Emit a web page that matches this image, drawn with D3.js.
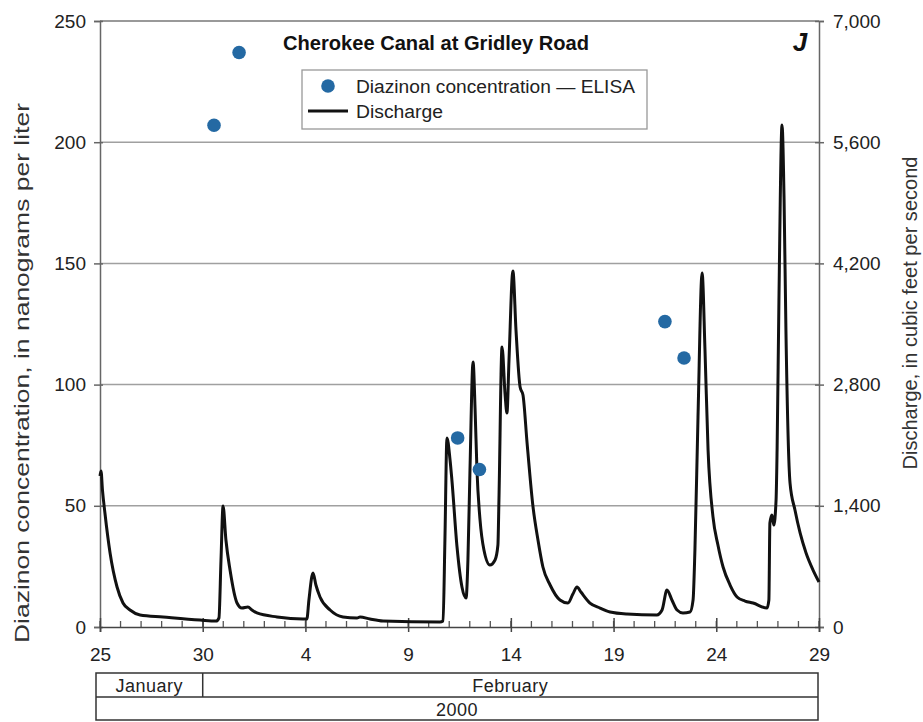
<!DOCTYPE html>
<html>
<head>
<meta charset="utf-8">
<script src="https://cdn.jsdelivr.net/npm/d3@7"></script>
<style>
  html, body { margin: 0; padding: 0; background: #fff; }
  svg { display: block; }
</style>
</head>
<body>
<div id="chart"></div>
<script>
// Cherokee Canal at Gridley Road, January 25 – February 29, 2000

// Discharge record: time in days after 2000-01-25 00:00, discharge in cubic feet per second
const dischargeDay = [0, 0.05, 0.12, 0.24, 0.49, 0.83, 1.12, 1.46, 1.95, 3.07, 4.87, 5.65, 5.79, 5.89, 5.99,
  6.13, 6.33, 6.67, 6.91, 7.20, 7.40, 7.64, 8.62, 9.88, 10.07, 10.17, 10.37, 10.51, 10.71, 11.20, 11.83,
  12.51, 12.66, 13.14, 13.78, 16.55, 16.70, 16.79, 16.89, 17.04, 17.13, 17.38, 17.62, 17.82, 17.91, 18.01,
  18.16, 18.26, 18.35, 18.50, 18.69, 18.98, 19.23, 19.37, 19.42, 19.57, 19.72, 19.81, 19.91, 20.10, 20.25,
  20.45, 20.59, 20.79, 21.08, 21.32, 21.56, 21.91, 22.39, 22.78, 23.02, 23.22, 23.41, 23.85, 24.34, 24.83,
  25.65, 27.11, 27.36, 27.60, 27.84, 28.09, 28.38, 28.72, 28.87, 28.96, 29.11, 29.31, 29.45, 29.60, 29.84,
  30.08, 30.33, 30.67, 31.01, 31.40, 31.79, 32.47, 32.56, 32.61, 32.71, 32.80, 32.91, 32.96, 33.05, 33.20,
  33.30, 33.39, 33.59, 33.83, 34.08, 34.37, 34.71, 35.00];
const dischargeCfs = [1744, 1802, 1582, 1317, 855, 462, 277, 196, 139, 116, 81, 69, 104, 774, 1398,
  1005, 658, 277, 219, 231, 196, 162, 116, 92, 92, 312, 624, 485, 347, 196, 116,
  104, 116, 92, 69, 58, 69, 1005, 2183, 1929, 1698, 924, 462, 335, 774, 1813,
  3061, 2507, 1813, 1236, 889, 716, 774, 947, 1467, 3234, 2680, 2472, 3084, 4112, 3430,
  2772, 2680, 2125, 1386, 1005, 693, 485, 312, 277, 381, 462, 404, 277, 219, 173,
  150, 139, 196, 427, 312, 196, 162, 173, 312, 889, 2426, 4089, 3200, 2045, 1271,
  947, 693, 485, 347, 300, 277, 219, 312, 1201, 1294, 1178, 1467, 2045, 3777, 5799,
  4932, 3431, 1663, 1351, 1086, 855, 658, 520];

// Diazinon samples (ELISA): time in days after 2000-01-25 00:00, concentration in ng/L
const elisaDay = [5.55, 6.77, 17.41, 18.47, 27.50, 28.43];
const elisaNgL = [207, 237, 78, 65, 126, 111];

// Axis ticks
const leftTicks = [0, 50, 100, 150, 200, 250];
const rightTicks = [0, 1400, 2800, 4200, 5600, 7000];
const xTickDates = ["2000-01-25", "2000-01-30", "2000-02-04", "2000-02-09", "2000-02-14", "2000-02-19", "2000-02-24", "2000-02-29"];
const xTickLabels = ["25", "30", "4", "9", "14", "19", "24", "29"];

// Month / year band under the time axis
const monthNames = ["January", "February"];
const monthStarts = ["2000-01-25", "2000-01-30"];
const monthEnds = ["2000-01-30", "2000-02-29"];
const yearLabel = "2000";

const W = 923, H = 722;
const FONT = '"Liberation Sans", Arial, sans-serif';
const BLUE = "#2469a3";

const parseDay = d3.timeParse("%Y-%m-%d");
const t0 = parseDay("2000-01-25");
const dayToDate = d => new Date(t0.getTime() + d * 86400000);

const plot = { left: 100, right: 819, top: 21, bottom: 627 };

const x = d3.scaleTime()
  .domain([t0, parseDay("2000-02-29")])
  .range([plot.left, plot.right]);
const yLeft = d3.scaleLinear().domain([0, 250]).range([plot.bottom, plot.top]);
const yRight = d3.scaleLinear().domain([0, 7000]).range([plot.bottom, plot.top]);

const svg = d3.select("#chart").append("svg")
  .attr("width", W).attr("height", H)
  .attr("viewBox", `0 0 ${W} ${H}`)
  .style("font-family", FONT);

// Horizontal grid lines
svg.append("g").selectAll("line")
  .data(leftTicks.filter(v => v > 0 && v < 250))
  .join("line")
  .attr("x1", plot.left).attr("x2", plot.right)
  .attr("y1", d => yLeft(d)).attr("y2", d => yLeft(d))
  .attr("stroke", "#a0a0a0").attr("stroke-width", 1.5);

// Top frame line
svg.append("line")
  .attr("x1", plot.left).attr("x2", plot.right)
  .attr("y1", yLeft(250)).attr("y2", yLeft(250))
  .attr("stroke", "#777").attr("stroke-width", 1.5);

// Left axis
const leftAxis = svg.append("g")
  .attr("transform", `translate(${plot.left},0)`)
  .call(d3.axisLeft(yLeft).tickValues(leftTicks).tickSize(6).tickPadding(8).tickFormat(d3.format("d")));
leftAxis.select(".domain").attr("stroke", "#666").attr("stroke-width", 1.5);
leftAxis.selectAll(".tick line").attr("stroke", "#666").attr("stroke-width", 1.5).attr("x2", -6).attr("x1", 3);
leftAxis.selectAll(".tick text")
  .attr("font-size", 19).attr("fill", "#222")
  .style("font-family", FONT);

// Right axis
const rightAxis = svg.append("g")
  .attr("transform", `translate(${plot.right},0)`)
  .call(d3.axisRight(yRight).tickValues(rightTicks).tickSize(5).tickPadding(9).tickFormat(d3.format(",")));
rightAxis.select(".domain").attr("stroke", "#666").attr("stroke-width", 1.5);
rightAxis.selectAll(".tick line").attr("stroke", "#666").attr("stroke-width", 1.5).attr("x1", -4);
rightAxis.selectAll(".tick text")
  .attr("font-size", 19).attr("fill", "#222")
  .style("font-family", FONT);

// Bottom axis: daily minor ticks pointing up, labelled major ticks every five days
const xMajor = xTickDates.map(parseDay);
svg.append("g").selectAll("line")
  .data(d3.timeDay.range(t0, dayToDate(35.5)))
  .join("line")
  .attr("x1", d => x(d)).attr("x2", d => x(d))
  .attr("y1", plot.bottom - 6).attr("y2", plot.bottom)
  .attr("stroke", "#555").attr("stroke-width", 1.3);

const bottomAxis = svg.append("g")
  .attr("transform", `translate(0,${plot.bottom})`)
  .call(d3.axisBottom(x).tickValues(xMajor).tickSize(5).tickPadding(16)
    .tickFormat((d, i) => xTickLabels[i]));
bottomAxis.select(".domain").attr("stroke", "#444").attr("stroke-width", 1.6);
bottomAxis.selectAll(".tick line").attr("stroke", "#444").attr("stroke-width", 1.5).attr("y1", -9);
bottomAxis.selectAll(".tick text")
  .attr("font-size", 19).attr("fill", "#222")
  .style("font-family", FONT);

// Discharge line (right axis)
const discharge = dischargeDay.map((d, i) => ({ date: dayToDate(d), cfs: dischargeCfs[i] }));
svg.append("path")
  .datum(discharge)
  .attr("fill", "none")
  .attr("stroke", "#111")
  .attr("stroke-width", 3)
  .attr("stroke-linejoin", "round")
  .attr("d", d3.line()
    .x(d => x(d.date))
    .y(d => yRight(d.cfs))
    .curve(d3.curveMonotoneX));

// Diazinon concentrations (left axis)
const samples = elisaDay.map((d, i) => ({ date: dayToDate(d), ngL: elisaNgL[i] }));
svg.append("g").selectAll("circle")
  .data(samples)
  .join("circle")
  .attr("cx", d => x(d.date))
  .attr("cy", d => yLeft(d.ngL))
  .attr("r", 6.8)
  .attr("fill", BLUE);

// Title and panel letter
svg.append("text")
  .attr("x", 436).attr("y", 50)
  .attr("text-anchor", "middle")
  .attr("font-size", 20).attr("font-weight", "bold").attr("fill", "#111")
  .attr("textLength", 306).attr("lengthAdjust", "spacingAndGlyphs")
  .text("Cherokee Canal at Gridley Road");
svg.append("text")
  .attr("x", 800).attr("y", 51)
  .attr("text-anchor", "middle")
  .attr("font-size", 26).attr("font-weight", "bold").attr("font-style", "italic").attr("fill", "#111")
  .text("J");

// Legend
const legend = svg.append("g");
legend.append("rect")
  .attr("x", 302).attr("y", 70).attr("width", 345).attr("height", 59)
  .attr("fill", "#fff").attr("stroke", "#999").attr("stroke-width", 1.3);
legend.append("circle").attr("cx", 328).attr("cy", 86).attr("r", 6.8).attr("fill", BLUE);
legend.append("text")
  .attr("x", 356).attr("y", 93)
  .attr("font-size", 18).attr("fill", "#222")
  .attr("textLength", 279).attr("lengthAdjust", "spacingAndGlyphs")
  .text("Diazinon concentration — ELISA");
legend.append("line")
  .attr("x1", 308).attr("x2", 348).attr("y1", 111).attr("y2", 111)
  .attr("stroke", "#111").attr("stroke-width", 3);
legend.append("text")
  .attr("x", 356).attr("y", 118)
  .attr("font-size", 18).attr("fill", "#222")
  .attr("textLength", 87).attr("lengthAdjust", "spacingAndGlyphs")
  .text("Discharge");

// Axis titles
svg.append("text")
  .attr("transform", "translate(29,373) rotate(-90)")
  .attr("text-anchor", "middle")
  .attr("font-size", 20).attr("fill", "#333")
  .attr("textLength", 540).attr("lengthAdjust", "spacingAndGlyphs")
  .text("Diazinon concentration, in nanograms per liter");
svg.append("text")
  .attr("transform", "translate(917,313) rotate(-90)")
  .attr("text-anchor", "middle")
  .attr("font-size", 20).attr("fill", "#333")
  .attr("textLength", 313).attr("lengthAdjust", "spacingAndGlyphs")
  .text("Discharge, in cubic feet per second");

// Month and year band
const band = svg.append("g").attr("stroke", "#333").attr("stroke-width", 1.5).attr("fill", "none");
const bandTop = 673, bandMid = 697, bandBottom = 720, bandLeft = 96, bandRight = 818;
band.append("rect").attr("x", bandLeft).attr("y", bandTop)
  .attr("width", bandRight - bandLeft).attr("height", bandBottom - bandTop);
band.append("line").attr("x1", bandLeft).attr("x2", bandRight).attr("y1", bandMid).attr("y2", bandMid);
band.append("line")
  .attr("x1", x(parseDay(monthStarts[1]))).attr("x2", x(parseDay(monthStarts[1])))
  .attr("y1", bandTop).attr("y2", bandMid);

svg.append("g").selectAll("text")
  .data(monthNames)
  .join("text")
  .attr("x", (d, i) => {
    const a = i === 0 ? bandLeft : x(parseDay(monthStarts[i]));
    const b = i === monthNames.length - 1 ? bandRight : x(parseDay(monthEnds[i]));
    return (a + b) / 2;
  })
  .attr("y", 692)
  .attr("text-anchor", "middle")
  .attr("font-size", 18).attr("fill", "#222").style("letter-spacing", "0.5px")
  .text(d => d);
svg.append("text")
  .attr("x", (bandLeft + bandRight) / 2).attr("y", 716)
  .attr("text-anchor", "middle")
  .attr("font-size", 18).attr("fill", "#222").style("letter-spacing", "0.5px")
  .text(yearLabel);
</script>
</body>
</html>
